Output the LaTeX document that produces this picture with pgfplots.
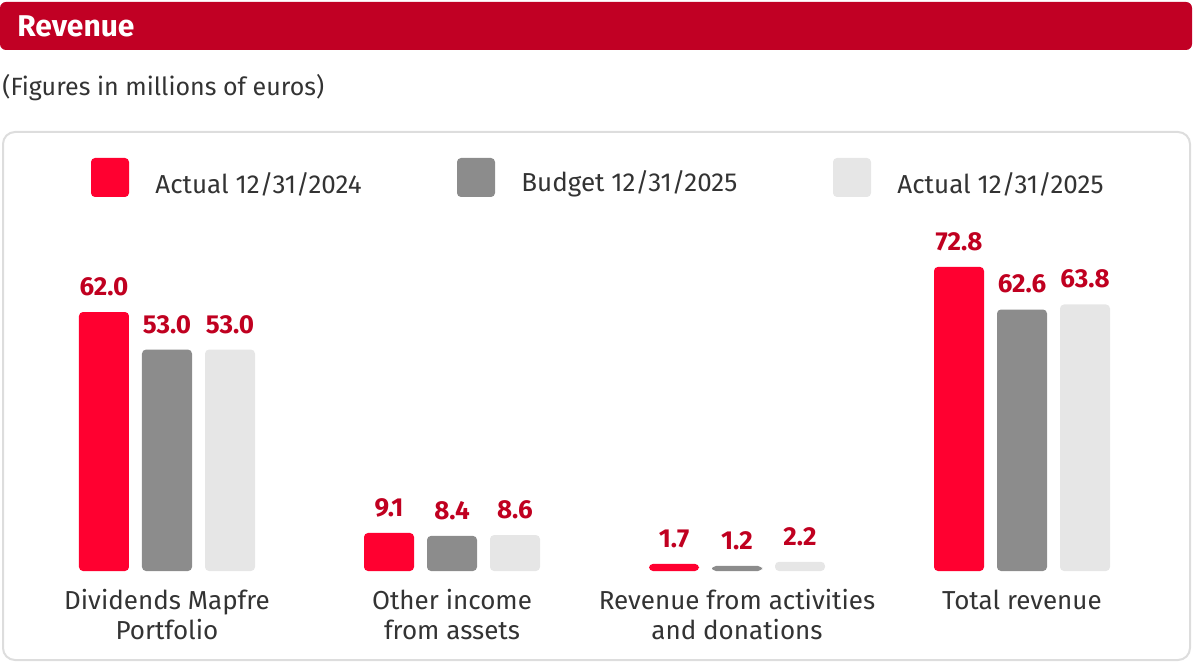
\documentclass[border=0pt]{standalone}
\usepackage{pgfplots}
\pgfplotsset{compat=1.18}
\usepackage{fontspec}
\setmainfont{Fira Sans}
\definecolor{barred}{HTML}{FF0030}
\definecolor{bargrey}{HTML}{8C8C8C}
\definecolor{barlight}{HTML}{E6E6E6}
\definecolor{titlered}{HTML}{C10024}
\definecolor{valred}{HTML}{C00020}
\definecolor{txt}{HTML}{333333}
\definecolor{frame}{HTML}{DDDDDD}
\begin{document}
\begin{tikzpicture}
\begin{scope}[x=0.5pt,y=-0.5pt]
\useasboundingbox (0,0) rectangle (1194,663);
% header
\fill[titlered, rounded corners=3pt] (0,2) rectangle (1192,50);
\node[anchor=west, text=white, font=\fontsize{15}{17}\selectfont\bfseries, inner sep=0] at (17,26) {Revenue};
\node[anchor=west, text=txt, font=\fontsize{12.5}{14}\selectfont, inner sep=0] at (2,88) {(Figures in millions of euros)};
% panel
\draw[frame, line width=1pt, rounded corners=6pt] (3,132) rectangle (1190,660);
% legend
\fill[barred, rounded corners=2pt] (91,158) rectangle (129,197);
\node[anchor=west, text=txt, font=\fontsize{13}{15}\selectfont, inner sep=0] at (155,184) {Actual 12/31/2024};
\fill[bargrey, rounded corners=2pt] (457,158) rectangle (495,197);
\node[anchor=west, text=txt, font=\fontsize{13}{15}\selectfont, inner sep=0] at (521,184) {Budget 12/31/2025};
\fill[barlight, rounded corners=2pt] (833,158) rectangle (871,197);
\node[anchor=west, text=txt, font=\fontsize{13}{15}\selectfont, inner sep=0] at (897,184) {Actual 12/31/2025};
\end{scope}
\begin{axis}[
  at={(12.25pt,-285.5pt)}, anchor=south west,
  scale only axis, width=570pt, height=167.1pt,
  xmin=-0.5, xmax=3.5, ymin=0, ymax=80,
  axis line style={draw=none}, tick style={draw=none},
  ytick=\empty, xtick={0,1,2,3},
  xticklabels={{Dividends Mapfre\\Portfolio},{Other income\\from assets},{Revenue from activities\\and donations},{Total revenue}},
  xticklabel style={align=center, text=txt, font=\fontsize{13}{15}\selectfont, anchor=north, yshift=-1.5pt},
  clip=false,
  ybar=6.5pt, bar width=25pt,
  every axis plot/.append style={draw=none, rounded corners=2pt},
  nodes near coords,
  nodes near coords style={text=valred, font=\fontsize{13}{15}\selectfont\bfseries, yshift=4.5pt,
    /pgf/number format/.cd, fixed, fixed zerofill, precision=1, assume math mode=true},
]
\addplot[fill=barred] coordinates {(0,62.0) (1,9.1) (2,1.7) (3,72.8)};
\addplot[fill=bargrey] coordinates {(0,53.0) (1,8.4) (2,1.2) (3,62.6)};
\addplot[fill=barlight] coordinates {(0,53.0) (1,8.6) (2,2.2) (3,63.8)};
\end{axis}
\end{tikzpicture}
\end{document}
